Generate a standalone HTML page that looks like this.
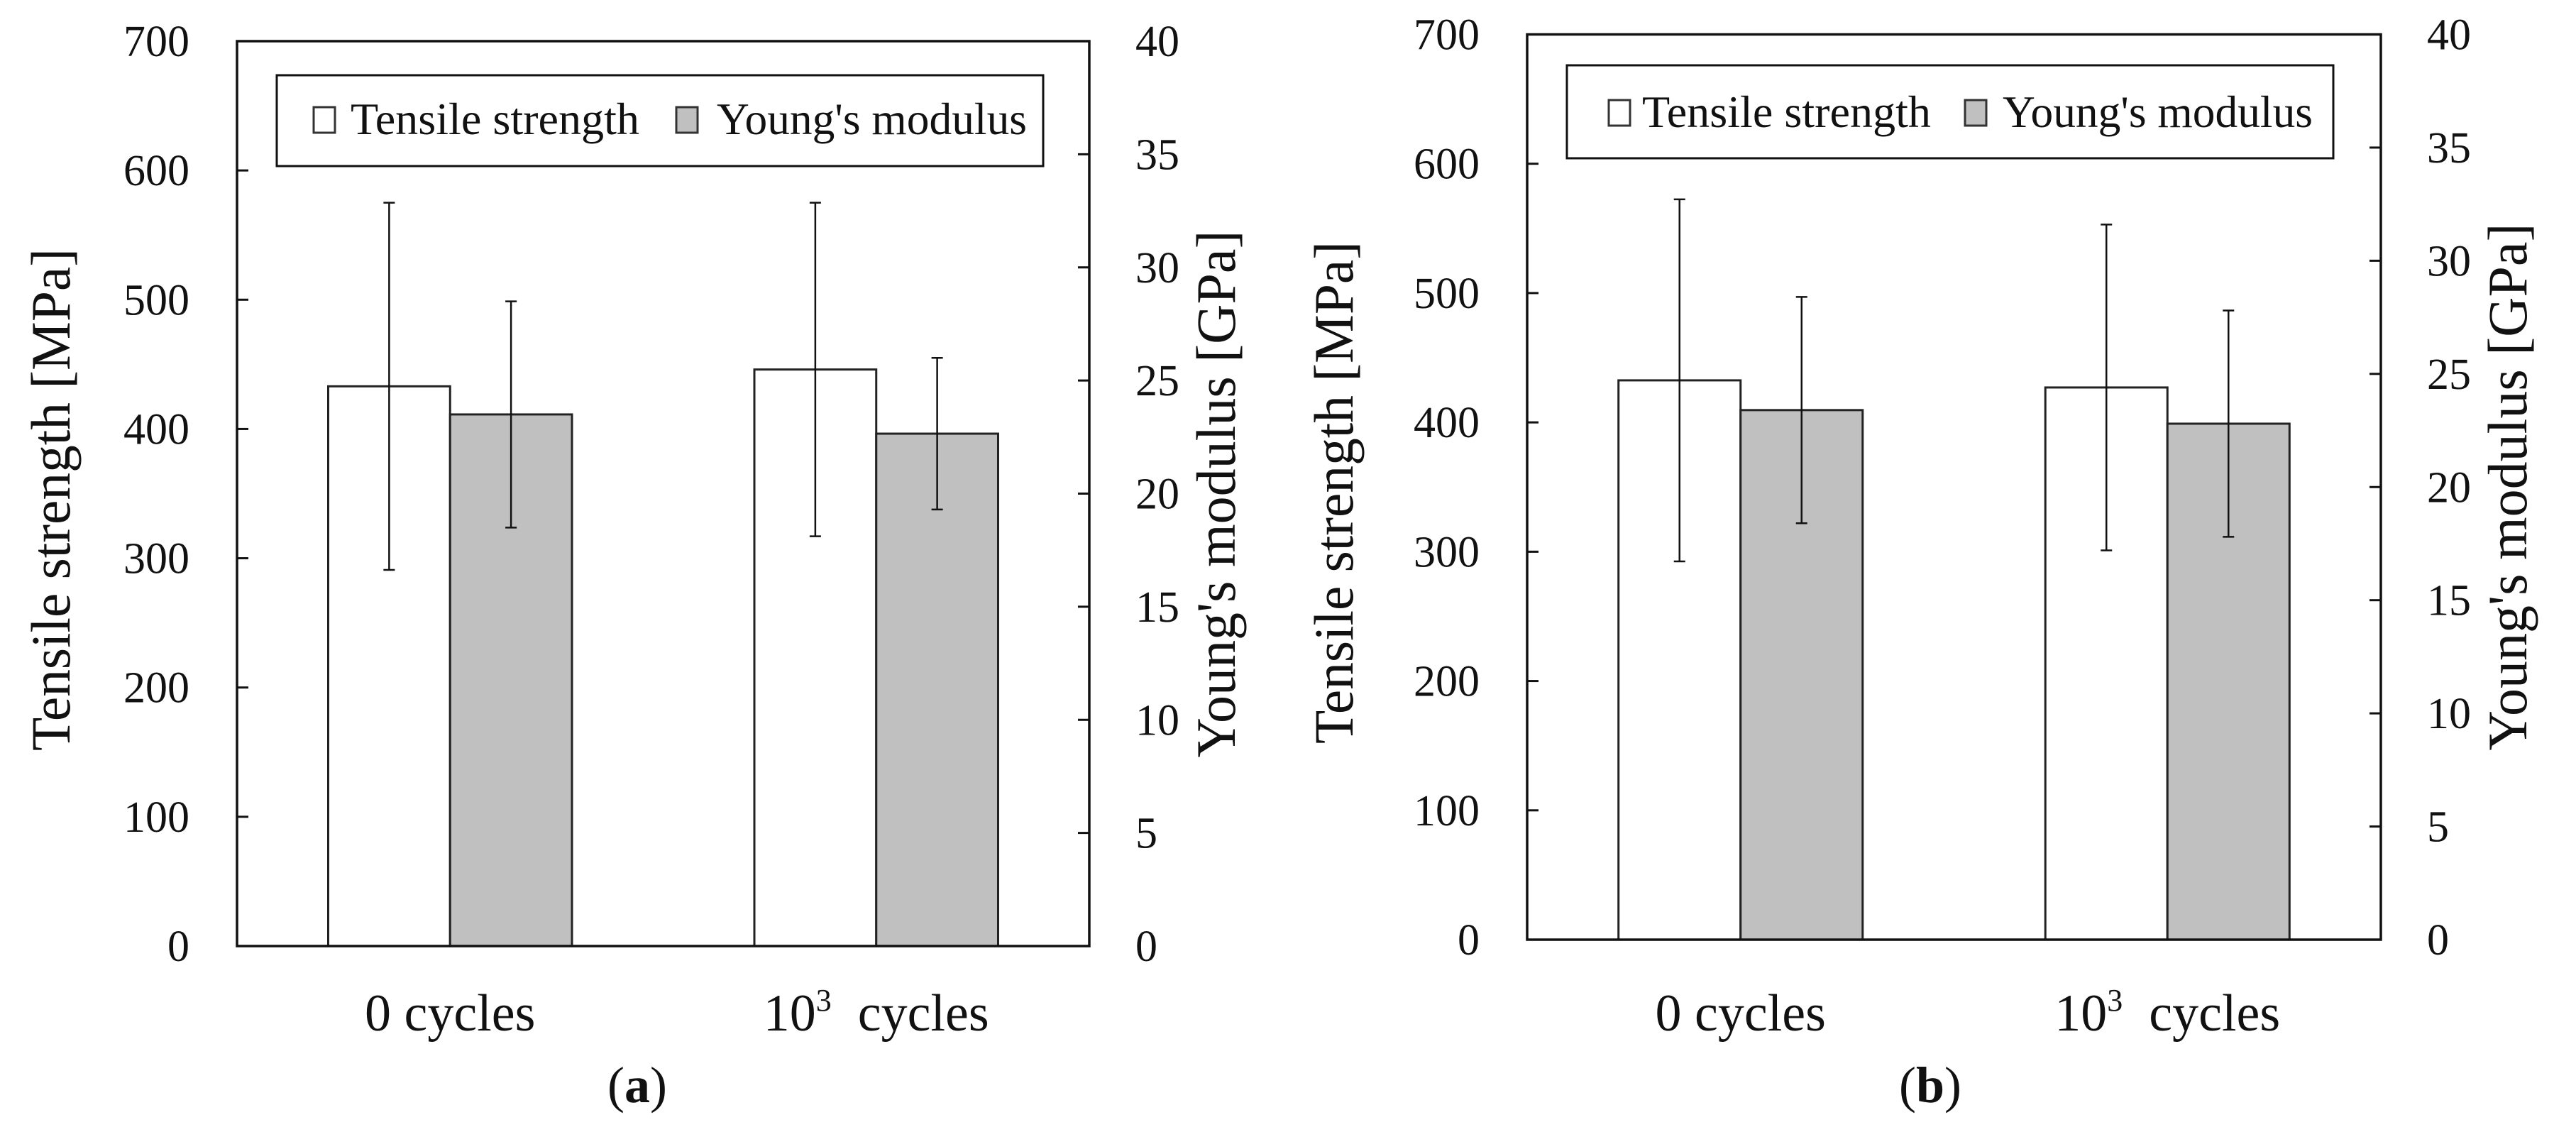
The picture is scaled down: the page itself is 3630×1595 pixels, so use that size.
<!DOCTYPE html>
<html><head><meta charset="utf-8"><style>
html,body{margin:0;padding:0;background:#fff;}
svg{display:block;font-family:"Liberation Serif",serif;}
</style></head><body>
<svg id="fig" width="3630" height="1595" viewBox="0 0 3630 1595" xmlns="http://www.w3.org/2000/svg"></svg>
<script>
const categories = ["0 cycles", "10³ cycles"];
const tensileA = [433, 446];
const tensileErrA = [142, 129];
const modulusA = [23.5, 22.65];
const modulusErrA = [5.0, 3.35];
const tensileB = [432.5, 427];
const tensileErrB = [140, 126];
const modulusB = [23.4, 22.8];
const modulusErrB = [5.0, 5.0];
const leftTicks = [0, 100, 200, 300, 400, 500, 600, 700];
const rightTicks = [0, 5, 10, 15, 20, 25, 30, 35, 40];
const legendLabels = ["Tensile strength", "Young's modulus"];
const panelLabels = ["(a)", "(b)"];

const NS = "http://www.w3.org/2000/svg";
const svg = document.getElementById("fig");
function mk(tag, attrs, parent){
  const e = document.createElementNS(NS, tag);
  for (const k in attrs) e.setAttribute(k, attrs[k]);
  (parent || svg).appendChild(e);
  return e;
}

const panels = [
  {id:"a", x0:334, x1:1535, y0:58, y1:1333, ts:tensileA, te:tensileErrA, ms:modulusA, me:modulusErrA,
   leg:{x:390, y:106, w:1080, h:128, base:189, s1:442, t1:494, s2:953, t2:1010},
   ltitle:{x:72, y:704, len:708}, rtitle:{x:1740, y:696, len:743}, plabel:{x:898, y:1553}, pidx:0},
  {id:"b", x0:2152, x1:3355, y0:48.5, y1:1324, ts:tensileB, te:tensileErrB, ms:modulusB, me:modulusErrB,
   leg:{x:2208, y:92, w:1080, h:131, base:179, s1:2267, t1:2314, s2:2769, t2:2822},
   ltitle:{x:1880, y:694, len:708}, rtitle:{x:3560, y:686, len:743}, plabel:{x:2720, y:1553}, pidx:1}
];

panels.forEach(p => {
  const g = mk("g", {});
  
  
  const W = p.x1 - p.x0;
  const yL = v => p.y1 - (v / 700) * (p.y1 - p.y0);
  const yR = v => p.y1 - (v / 40) * (p.y1 - p.y0);
  const xc = i => p.x0 + W * (0.25 + 0.5 * i);
  const bw = W * 0.143;

  categories.forEach((c, i) => {
    const cx = xc(i);
    const t = mk("rect", {x:cx-bw, y:yL(p.ts[i]), width:bw, height:p.y1-yL(p.ts[i]), fill:"#fff", stroke:"#222", "stroke-width":3}, g);
    
    
    const m = mk("rect", {x:cx, y:yR(p.ms[i]), width:bw, height:p.y1-yR(p.ms[i]), fill:"#c0c0c0", stroke:"#222", "stroke-width":3}, g);
    
    
    const ex1 = cx - bw/2;
    const eb1 = mk("path", {d:`M${ex1},${yL(p.ts[i]+p.te[i])}V${yL(p.ts[i]-p.te[i])}M${ex1-8},${yL(p.ts[i]+p.te[i])}h16M${ex1-8},${yL(p.ts[i]-p.te[i])}h16`, stroke:"#111", "stroke-width":2.5, fill:"none"}, g);
    
    
    const ex2 = cx + bw/2;
    const eb2 = mk("path", {d:`M${ex2},${yR(p.ms[i]+p.me[i])}V${yR(p.ms[i]-p.me[i])}M${ex2-8},${yR(p.ms[i]+p.me[i])}h16M${ex2-8},${yR(p.ms[i]-p.me[i])}h16`, stroke:"#111", "stroke-width":2.5, fill:"none"}, g);
    
    
    const lab = mk("text", {x:cx, y:1452, "font-size":74, "text-anchor":"middle", fill:"#111"}, g);
    
    
    if (c.indexOf("³") >= 0) {
      lab.setAttribute("xml:space", "preserve");
      const t1 = mk("tspan", {}, lab); t1.textContent = "10";
      const t2 = mk("tspan", {"font-size":44, dy:-28}, lab); t2.textContent = "3";
      const t3 = mk("tspan", {dy:28}, lab); t3.textContent = "\u00a0\u00a0cycles";
    } else lab.textContent = c;
  });

  const fr = mk("rect", {x:p.x0, y:p.y0, width:W, height:p.y1-p.y0, fill:"none", stroke:"#111", "stroke-width":3.5}, g);
  
  

  leftTicks.forEach(v => {
    const y = yL(v);
    const tk = mk("line", {x1:p.x0, x2:p.x0+16, y1:y, y2:y, stroke:"#111", "stroke-width":3}, g);
    
    
    const tl = mk("text", {x:p.x0-67, y:y+21, "font-size":62, "text-anchor":"end", fill:"#111"}, g);
    
    
    tl.textContent = v;
  });
  rightTicks.forEach(v => {
    const y = yR(v);
    const tk = mk("line", {x1:p.x1-16, x2:p.x1, y1:y, y2:y, stroke:"#111", "stroke-width":3}, g);
    
    
    const tl = mk("text", {x:p.x1+65, y:y+21, "font-size":62, "text-anchor":"start", fill:"#111"}, g);
    
    
    tl.textContent = v;
  });

  const lt = mk("text", {x:0, y:0, "font-size":78, "text-anchor":"middle", fill:"#111", textLength:p.ltitle.len, lengthAdjust:"spacingAndGlyphs",
    transform:`translate(${p.ltitle.x+26},${p.ltitle.y}) rotate(-90)`}, g);
  
  
  lt.textContent = "Tensile strength [MPa]";
  const rt = mk("text", {x:0, y:0, "font-size":78, "text-anchor":"middle", fill:"#111", textLength:p.rtitle.len, lengthAdjust:"spacingAndGlyphs",
    transform:`translate(${p.rtitle.x},${p.rtitle.y}) rotate(-90)`}, g);
  
  
  rt.textContent = "Young's modulus [GPa]";

  const L = p.leg;
  const lg = mk("g", {}, g);
  
  
  mk("rect", {x:L.x, y:L.y, width:L.w, height:L.h, fill:"#fff", stroke:"#111", "stroke-width":3}, lg);
  const sw1 = mk("rect", {x:L.s1, y:L.base-38, width:30, height:36, fill:"#fff", stroke:"#333", "stroke-width":3}, lg);
  
  
  const tx1 = mk("text", {x:L.t1, y:L.base, "font-size":63, fill:"#111", textLength:407, lengthAdjust:"spacingAndGlyphs"}, lg);
  
  
  tx1.textContent = legendLabels[0];
  const sw2 = mk("rect", {x:L.s2, y:L.base-38, width:30, height:36, fill:"#c0c0c0", stroke:"#333", "stroke-width":3}, lg);
  
  
  const tx2 = mk("text", {x:L.t2, y:L.base, "font-size":63, fill:"#111", textLength:437, lengthAdjust:"spacingAndGlyphs"}, lg);
  
  
  tx2.textContent = legendLabels[1];

  const pl = mk("text", {x:p.plabel.x, y:p.plabel.y, "font-size":72, "text-anchor":"middle", fill:"#111"}, g);
  
  
  const a1 = mk("tspan", {}, pl); a1.textContent = "(";
  const a2 = mk("tspan", {"font-weight":"bold"}, pl); a2.textContent = p.id;
  const a3 = mk("tspan", {}, pl); a3.textContent = ")";
});
</script>
</body></html>
